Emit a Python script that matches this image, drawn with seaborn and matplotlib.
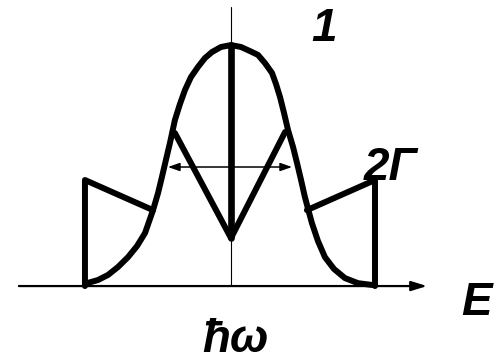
"""
plot.py - schematic line shape: bell curve with the "1" outline, 2Γ width arrow.
"""

import matplotlib

matplotlib.use("Agg")  # non-interactive backend
import matplotlib.pyplot as plt
import pandas as pd
import seaborn as sns

# ─────────────────────────────────────────────────────────────────────────────
# Data (E in units of the half base width, I normalised)
# ─────────────────────────────────────────────────────────────────────────────
bell_e = [
    -1.007, -0.930, -0.860, -0.790, -0.720, -0.657, -0.601, -0.545, -0.510,
    -0.483, -0.455, -0.427, -0.392, -0.357, -0.322, -0.280, -0.231, -0.182,
    -0.133, -0.070, 0.000, 0.070, 0.133, 0.189, 0.238, 0.287, 0.315, 0.343,
    0.371, 0.399, 0.434, 0.462, 0.490, 0.517, 0.545, 0.566, 0.608, 0.657,
    0.720, 0.797, 0.888, 0.993,
]
bell_i = [
    0.012, 0.025, 0.046, 0.079, 0.120, 0.166, 0.220, 0.315, 0.386,
    0.452, 0.523, 0.593, 0.689, 0.755, 0.813, 0.867, 0.909, 0.946,
    0.971, 0.992, 1.000, 0.992, 0.975, 0.959, 0.925, 0.884, 0.838, 0.784,
    0.718, 0.647, 0.577, 0.510, 0.440, 0.369, 0.307, 0.261, 0.187, 0.120,
    0.071, 0.033, 0.012, 0.004,
]

# outline of curve "1" (pieces that do not lie on the bell curve)
left_e = [-1.021, -1.021, -0.545]
left_i = [0.000, 0.440, 0.315]
mid_e = [-0.392, 0.000, 0.378]
mid_i = [0.635, 0.199, 0.639]
right_e = [0.531, 1.007, 1.007]
right_i = [0.315, 0.440, 0.000]

# central line
centre_e = [0.000, 0.000]
centre_i = [0.199, 1.000]

# 2Γ width marker
width_e = [-0.441, 0.427]
width_i = 0.494

labels = {
    "1": (0.650, 1.066),
    "2Γ": (1.118, 0.490),
    "E": (1.720, -0.071),
    "ħω": (0.028, -0.224),
}

# ─────────────────────────────────────────────────────────────────────────────
# Plot
# ─────────────────────────────────────────────────────────────────────────────
sns.set_theme(style="white")
plt.rcParams["font.family"] = ["Liberation Sans", "DejaVu Sans"]

fig = plt.figure(figsize=(4.98, 3.61), dpi=100)
ax = fig.add_axes([0, 0, 1, 1])
ax.set_xlim(-1.615, 1.867)
ax.set_ylim(-0.311, 1.187)
ax.axis("off")

# axes of the sketch
ax.plot([0, 0], [0, 1.158], color="black", lw=0.8)
ax.annotate(
    "",
    xy=(1.371, 0),
    xytext=(-1.483, 0),
    arrowprops=dict(
        arrowstyle="-|>,head_length=0.94,head_width=0.29",
        mutation_scale=10,
        lw=1.6,
        color="black",
        shrinkA=0,
        shrinkB=0,
    ),
)

line_kw = dict(
    color="black",
    estimator=None,
    sort=False,
    ax=ax,
    legend=False,
    solid_capstyle="round",
    solid_joinstyle="round",
)

bell = pd.DataFrame({"E": bell_e, "I": bell_i})
sns.lineplot(data=bell, x="E", y="I", lw=4.3, **line_kw)

for xs, ys in [(left_e, left_i), (mid_e, mid_i), (right_e, right_i)]:
    piece = pd.DataFrame({"E": xs, "I": ys})
    sns.lineplot(data=piece, x="E", y="I", lw=4.3, **line_kw)

centre = pd.DataFrame({"E": centre_e, "I": centre_i})
sns.lineplot(data=centre, x="E", y="I", lw=4.8, **line_kw)

ax.annotate(
    "",
    xy=(width_e[1], width_i),
    xytext=(width_e[0], width_i),
    arrowprops=dict(
        arrowstyle="<|-|>,head_length=1.0,head_width=0.35",
        mutation_scale=7,
        lw=1.1,
        color="black",
        shrinkA=0,
        shrinkB=0,
    ),
)

for text, (x, y) in labels.items():
    ax.text(
        x, y, text,
        fontsize=33,
        fontweight="bold",
        fontstyle="italic",
        ha="center",
        va="center",
        color="black",
    )

fig.savefig("out.png", dpi=100)
plt.close(fig)
